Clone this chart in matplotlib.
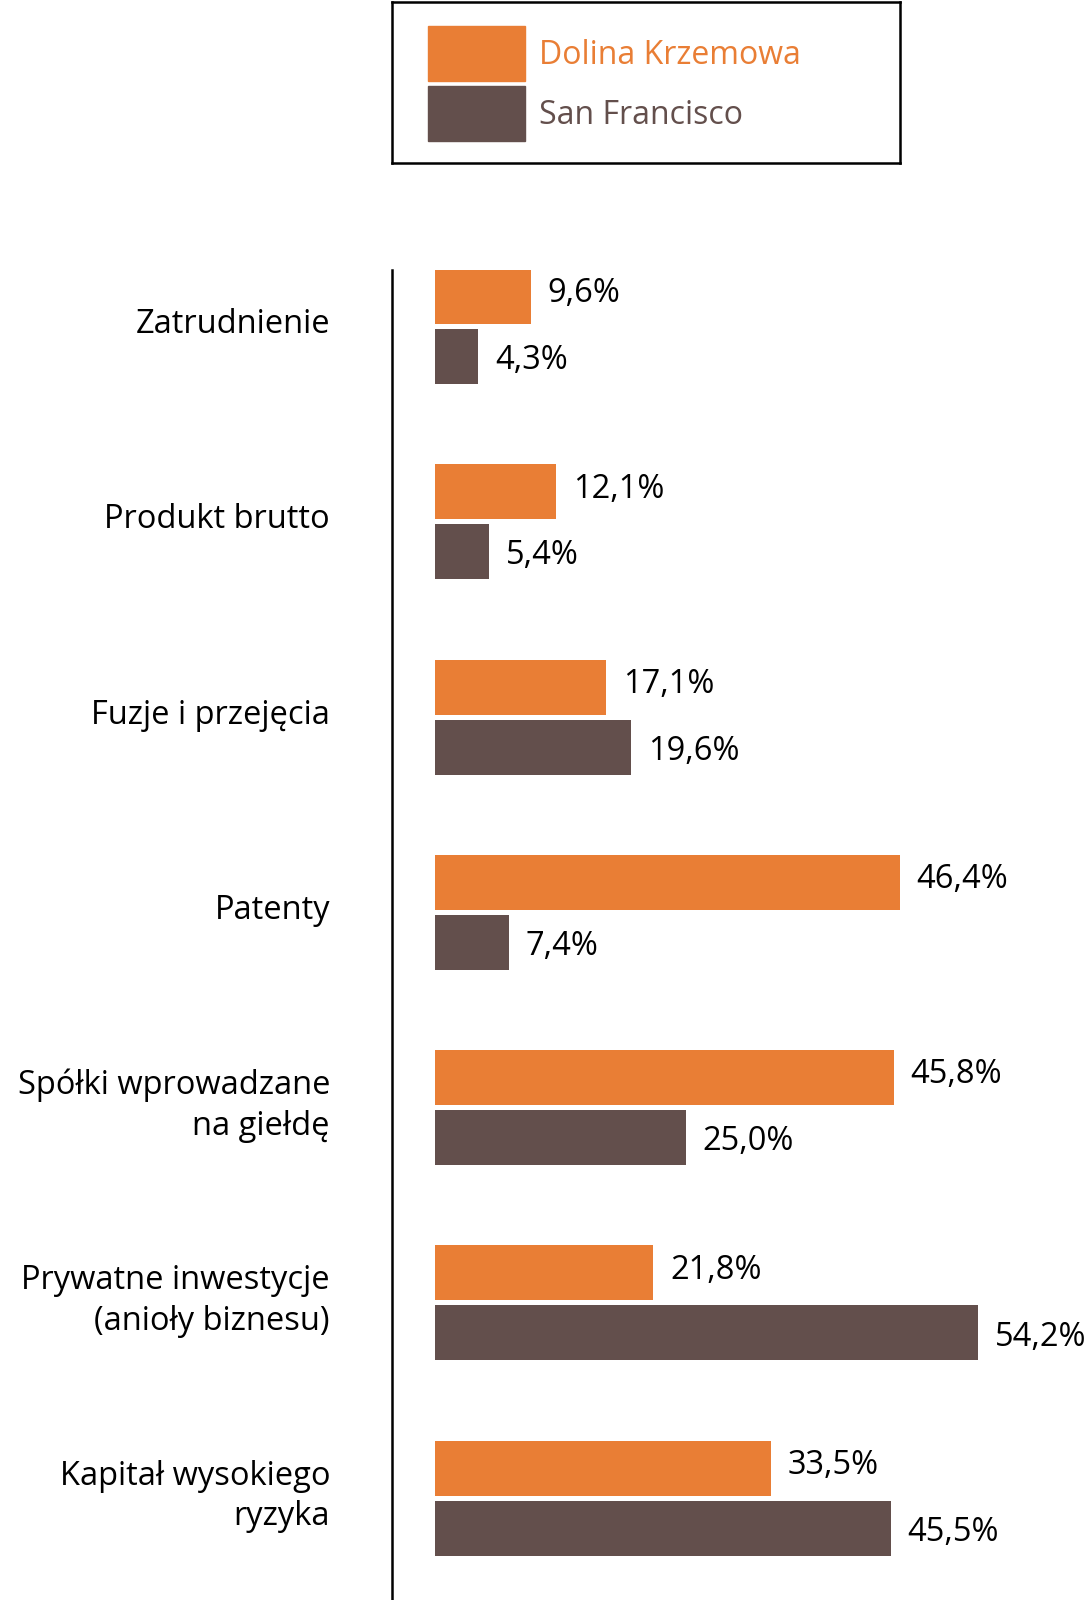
import numpy as np
import matplotlib
matplotlib.use("Agg")
from matplotlib import pyplot as plt
from matplotlib.patches import Rectangle

# Dane
kategorie = ["Zatrudnienie", "Produkt brutto", "Fuzje i przejęcia", "Patenty",
             "Spółki wprowadzane\nna giełdę", "Prywatne inwestycje\n(anioły biznesu)",
             "Kapitał wysokiego\nryzyka"]
dolina = [9.6, 12.1, 17.1, 46.4, 45.8, 21.8, 33.5]
san_francisco = [4.3, 5.4, 19.6, 7.4, 25.0, 54.2, 45.5]
serie = ["Dolina Krzemowa", "San Francisco"]

kolor_pom = "#E97E35"
kolor_br = "#634F4C"

plt.rcParams["font.family"] = ["Open Sans", "DejaVu Sans"]

W, H = 1088, 1600
fig = plt.figure(figsize=(W / 100, H / 100), dpi=100)

# Wykres glowny (os y w pikselach od gory)
ax = fig.add_axes([392 / W, 0, (W - 392) / W, 1330 / H])
x0, px = 435, 10.02
ax.set_xlim(-(x0 - 392) / px, (W - x0) / px)
ax.set_ylim(1600, 270)

krok = 195.3
h = 55
y_pom = 296.5 + krok * np.arange(len(kategorie))
y_br = y_pom + 60

ax.barh(y_pom, dolina, height=h, left=0, color=kolor_pom)
ax.barh(y_br, san_francisco, height=h, left=0, color=kolor_br)

def fmt(v):
    return f"{v:.1f}".replace(".", ",") + "%"

for yp, yb, a, b in zip(y_pom, y_br, dolina, san_francisco):
    ax.annotate(fmt(a), (a, yp), xytext=(12, 2), textcoords="offset points",
                va="center", ha="left", fontsize=23.5, color="black")
    ax.annotate(fmt(b), (b, yb), xytext=(12, -3), textcoords="offset points",
                va="center", ha="left", fontsize=23.5, color="black")

# Etykiety kategorii
for yp, k in zip(y_pom, kategorie):
    ax.text(-(x0 - 330) / px, yp + 28, k, ha="right", va="center",
            fontsize=23.5, multialignment="right", linespacing=1.3)

for s in ["top", "right", "bottom"]:
    ax.spines[s].set_visible(False)
ax.spines["left"].set_linewidth(1.8)
ax.spines["left"].set_color("black")
ax.set_xticks([])
ax.set_yticks([])
ax.patch.set_alpha(0)

# Legenda
lax = fig.add_axes([392 / W, 1 - 163 / H, (900 - 392) / W, 161 / H])
lax.set_xlim(0, 508)
lax.set_ylim(161, 0)
lax.set_xticks([])
lax.set_yticks([])
for s in lax.spines.values():
    s.set_linewidth(1.8)
    s.set_color("black")
kolory = [kolor_pom, kolor_br]
for i, (nazwa, kol) in enumerate(zip(serie, kolory)):
    top = 24 + 60 * i
    lax.add_patch(Rectangle((36, top), 97, 55, color=kol))
    lax.text(147, top + 30, nazwa, color=kol, fontsize=23, va="center", ha="left")

fig.savefig("out.png", dpi=100)
